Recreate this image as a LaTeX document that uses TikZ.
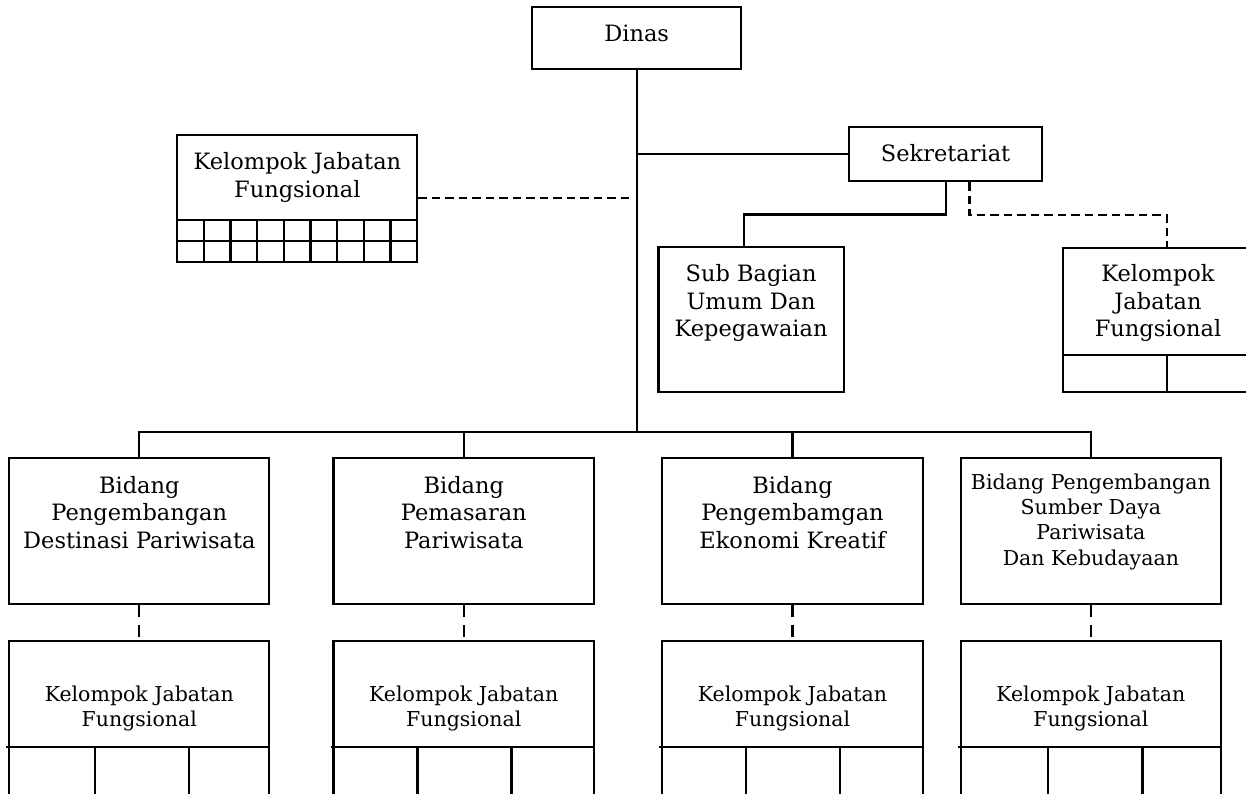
\documentclass[tikz,border=0pt]{standalone}
\usepackage{fontspec}
\setmainfont{DejaVu Serif}
\usetikzlibrary{fit}
\newcommand{\orgrows}[1]{\begin{tabular}[t]{@{}c@{}}#1\end{tabular}}
\begin{document}
\begin{tikzpicture}[x=1pt,y=-1pt,line width=2.3pt,
  orgbox/.style={draw,line width=2.3pt,inner sep=0pt},
  bigtext/.style={font=\fontsize{22.5}{27.5}\selectfont,inner sep=0pt,anchor=base},
  midtext/.style={font=\fontsize{20.5}{25.3}\selectfont,inner sep=0pt,anchor=base},
  smalltext/.style={font=\fontsize{20.5}{24.3}\selectfont,inner sep=0pt,anchor=base},
  conn/.style={line width=2.3pt},
  dashconn/.style={line width=2.3pt,dash pattern=on 8.5pt off 5pt},
  dropdash/.style={line width=2.3pt,dash pattern=on 12pt off 8pt},
  cell/.style={line width=2.3pt}]
\useasboundingbox (0,0) rectangle (1246,794);
\clip (0,0) rectangle (1246,794);

% top
\node[orgbox,fit={(532.3,7.3) (741,69.3)}] (dinas) {};
\node[bigtext] (dinastext) at (636.6,41.7) {Dinas};

\node[orgbox,fit={(849.3,127.3) (1042,181)}] (sek) {};
\node[bigtext] (sektext) at (945.6,161.7) {Sekretariat};

% left functional group
\node[orgbox,fit={(177.3,135) (417.3,261.7)}] (kjfL) {};
\node[bigtext] (kjfLtext) at (297.4,170) {\orgrows{Kelompok Jabatan\\Fungsional}};
\draw[cell] (177.3,220) -- (417.3,220);
\draw[cell] (177.3,240.7) -- (417.3,240.7);
\foreach \i in {1,...,8} \draw[cell] (177.3+\i*26.667,220) -- (177.3+\i*26.667,261.7);

% sub bagian
\node[orgbox,fit={(658.5,246.7) (843.7,392.3)}] (sub) {};
\node[bigtext] (subtext) at (751.1,281.7) {\orgrows{Sub Bagian\\Umum Dan\\Kepegawaian}};

% right functional group
\node[orgbox,fit={(1063.3,247.7) (1270,391.7)}] (kjfR) {};
\node[bigtext] (kjfRtext) at (1158,281.7) {\orgrows{Kelompok\\Jabatan\\Fungsional}};
\draw[cell] (1063.3,355.3) -- (1270,355.3);
\draw[cell] (kjfR.north |- 0,355.3) -- (kjfR.south);

% bidang
\node[orgbox,fit={(9.3,458.3) (269.3,603.8)}] (b1) {};
\node[bigtext] (b1text) at (139.3,493.3) {\orgrows{Bidang\\Pengembangan\\Destinasi Pariwisata}};
\node[orgbox,fit={(333.5,458.3) (594,603.8)}] (b2) {};
\node[bigtext] (b2text) at (463.75,493.3) {\orgrows{Bidang\\Pemasaran\\Pariwisata}};
\node[orgbox,fit={(662,458.3) (923,603.8)}] (b3) {};
\node[bigtext] (b3text) at (792.5,493.3) {\orgrows{Bidang\\Pengembamgan\\Ekonomi Kreatif}};
\node[orgbox,fit={(960.8,458.3) (1220.9,603.8)}] (b4) {};
\node[midtext] (b4text) at (1090.85,489.3) {\orgrows{Bidang Pengembangan\\Sumber Daya\\Pariwisata\\Dan Kebudayaan}};

% bottom functional groups
\node[orgbox,fit={(9.3,641) (269.3,810)}] (k1) {};
\node[smalltext] (k1text) at (139.3,701.7) {\orgrows{Kelompok Jabatan\\Fungsional}};
\draw[cell] (6.3,746.7) -- (269.3,746.7);
\draw[cell] (95,746.7) -- (95,810);
\draw[cell] (189,746.7) -- (189,810);

\node[orgbox,fit={(333.5,641) (594,810)}] (k2) {};
\node[smalltext] (k2text) at (463.75,701.7) {\orgrows{Kelompok Jabatan\\Fungsional}};
\draw[cell] (330.5,746.7) -- (594,746.7);
\draw[cell] (417.6,746.7) -- (417.6,810);
\draw[cell] (511.4,746.7) -- (511.4,810);

\node[orgbox,fit={(662,641) (923,810)}] (k3) {};
\node[smalltext] (k3text) at (792.5,701.7) {\orgrows{Kelompok Jabatan\\Fungsional}};
\draw[cell] (659,746.7) -- (923,746.7);
\draw[cell] (745.9,746.7) -- (745.9,810);
\draw[cell] (840.2,746.7) -- (840.2,810);

\node[orgbox,fit={(960.8,641) (1220.9,810)}] (k4) {};
\node[smalltext] (k4text) at (1090.85,701.7) {\orgrows{Kelompok Jabatan\\Fungsional}};
\draw[cell] (957.8,746.7) -- (1222,746.7);
\draw[cell] (1047.7,746.7) -- (1047.7,810);
\draw[cell] (1142.4,746.7) -- (1142.4,810);

% connectors
\coordinate (bus) at (636.7,432.3);
\draw[conn] (dinas.south) -- (dinas.south |- bus);
\draw[conn] (b1.north) |- (bus) -| (b4.north);
\draw[conn] (b2.north) -- (b2.north |- bus);
\draw[conn] (b3.north) -- (b3.north |- bus);
\draw[conn] (dinas.south |- sek.west) -- (sek.west);
\draw[conn] (sek.south) -- ++(0,32.3) -| ([xshift=-7.4pt]sub.north);
\draw[dashconn] ([xshift=23.7pt]sek.south) -- ++(0,33) -| (kjfR.north);
\draw[dashconn] (kjfL.east) -- ([xshift=-4pt]kjfL.east -| dinas.south);
\draw[dropdash] (b1.south) -- (k1.north);
\draw[dropdash] (b2.south) -- (k2.north);
\draw[dropdash] (b3.south) -- (k3.north);
\draw[dropdash] (b4.south) -- (k4.north);
\end{tikzpicture}
\end{document}
